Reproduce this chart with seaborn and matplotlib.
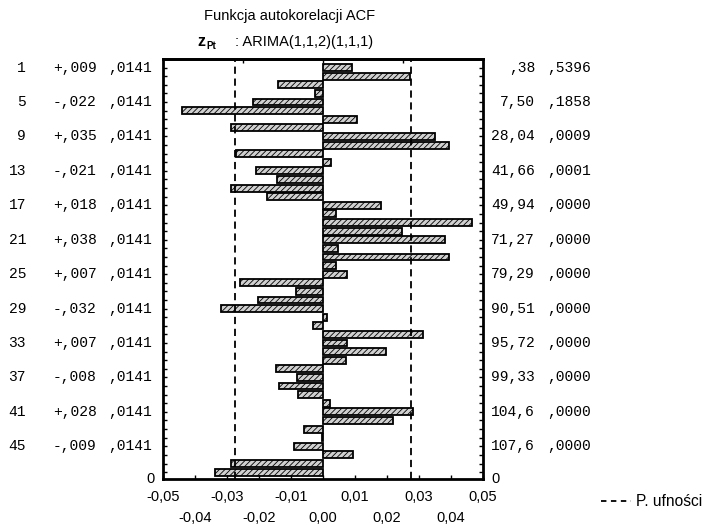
import matplotlib
matplotlib.use("Agg")
import matplotlib.pyplot as plt
import seaborn as sns
import pandas as pd
from matplotlib.transforms import blended_transform_factory
from matplotlib.lines import Line2D

# ---------------- data ----------------
lags = list(range(1, 49))
acf = [0.009, 0.0271, -0.0140, -0.0026, -0.022, -0.0440, 0.0105, -0.0286,
       0.035, 0.0394, -0.0271, 0.0026, -0.021, -0.0145, -0.0286, -0.0174,
       0.018, 0.0042, 0.0466, 0.0247, 0.038, 0.0047, 0.0394, 0.0041,
       0.0074, -0.0260, -0.0083, -0.0204, -0.032, 0.0013, -0.0032, 0.0313,
       0.0074, 0.0198, 0.0072, -0.0148, -0.008, -0.0136, -0.0078, 0.0021,
       0.028, 0.0219, -0.0060, -0.0004, -0.009, 0.0094, -0.0286, -0.0338]
std_err = 0.0141

label_lags = [1, 5, 9, 13, 17, 21, 25, 29, 33, 37, 41, 45]
label_acf = ["+,009", "-,022", "+,035", "-,021", "+,018", "+,038",
             "+,007", "-,032", "+,007", "-,008", "+,028", "-,009"]
label_se = [",0141"] * 12
label_q = [",38", "7,50", "28,04", "41,66", "49,94", "71,27",
           "79,29", "90,51", "95,72", "99,33", "104,6", "107,6"]
label_p = [",5396", ",1858", ",0009", ",0001", ",0000", ",0000",
           ",0000", ",0000", ",0000", ",0000", ",0000", ",0000"]

xticks_top_row = [-0.05, -0.03, -0.01, 0.01, 0.03, 0.05]
xticks_bottom_row = [-0.04, -0.02, 0.00, 0.02, 0.04]

title_line1 = "Funkcja autokorelacji ACF"
title_var = "z"
title_sub = "Pt"
title_model = ": ARIMA(1,1,2)(1,1,1)"
legend_label = "P. ufności"

# ---------------- figure ----------------
W, H = 706, 527
fig = plt.figure(figsize=(W / 100, H / 100), dpi=100)
ax = fig.add_axes([163 / W, 1 - 479 / H, 320 / W, 420 / H])

plt.rcParams["hatch.linewidth"] = 0.6
df = pd.DataFrame({"lag": lags, "acf": acf})
sns.barplot(data=df, x="acf", y="lag", orient="h", native_scale=True,
            width=0.8, color="#d0d0d0", saturation=1, edgecolor="black",
            linewidth=1.3, hatch="//////", ax=ax)

conf = 1.96 * std_err
for c in (-conf, conf):
    ax.axvline(c, color="black", lw=1.3, ls=(0, (4, 2.6)), zorder=5)

ax.set_xlim(-0.05, 0.05)
ax.set_ylim(48.8, 0)
ax.set_xlabel("")
ax.set_ylabel("")

for s in ax.spines.values():
    s.set_linewidth(2)
    s.set_color("black")

sans = "Liberation Sans"
mono = "Liberation Mono"
fs = 10.5

def fmt(v):
    return f"{v:.2f}".replace(".", ",")

ax.set_xticks(xticks_top_row)
ax.set_xticklabels([fmt(v) for v in xticks_top_row], family=sans, fontsize=fs)
ax.set_xticks(xticks_bottom_row, minor=True)
ax.set_xticklabels([fmt(v) for v in xticks_bottom_row], minor=True,
                   family=sans, fontsize=fs)
ax.tick_params(axis="x", which="major", direction="in", length=3, width=1,
               pad=8)
ax.tick_params(axis="x", which="minor", direction="in", length=3, width=1,
               pad=23)

ax.set_yticks(lags)
ax.set_yticks([], minor=True)
ax.tick_params(axis="y", which="both", direction="in", length=3, width=1,
               left=True, right=True, labelleft=False, labelright=False)

sec = ax.secondary_xaxis("top")
sec.set_xticks([-0.025, 0, 0.025])
sec.set_xticklabels([])
sec.tick_params(direction="in", length=3, width=1)
sec.spines["top"].set_linewidth(2)

# side text columns
tr = blended_transform_factory(fig.transFigure, ax.transData)
for i, lag in enumerate(label_lags):
    kw = dict(transform=tr, family=mono, fontsize=fs, va="center",
              color="black")
    ax.text(26 / W, lag, str(lag), ha="right", **kw)
    ax.text(53 / W, lag, label_acf[i], ha="left", **kw)
    ax.text(108 / W, lag, label_se[i], ha="left", **kw)
    ax.text(535 / W, lag, label_q[i], ha="right", **kw)
    ax.text(547 / W, lag, label_p[i], ha="left", **kw)

ax.text(155 / W, 48.8, "0", transform=tr, ha="right", va="center",
        family=sans, fontsize=fs)
ax.text(491 / W, 48.8, "0", transform=tr, ha="left", va="center",
        family=sans, fontsize=fs)

# titles
fig.text(290 / W, 1 - 16 / H, title_line1, ha="center", va="center",
         family=sans, fontsize=fs)
fig.text(197 / W, 1 - 42 / H, title_var, ha="left", va="center",
         family=sans, fontsize=fs + 1, weight="bold")
fig.text(206 / W, 1 - 46 / H, title_sub, ha="left", va="center",
         family=sans, fontsize=7, weight="bold")
fig.text(235 / W, 1 - 42 / H, title_model, ha="left", va="center",
         family=sans, fontsize=fs)

# legend
handle = Line2D([], [], color="black", lw=1.3, ls=(0, (3, 2.5)))
fig.legend([handle], [legend_label], loc="center left",
           bbox_to_anchor=(601 / W, 1 - 502 / H), frameon=False,
           handlelength=1.9, handletextpad=0.35, borderpad=0,
           borderaxespad=0, prop={"family": sans, "size": 11.2})

fig.savefig("out.png", dpi=100)
